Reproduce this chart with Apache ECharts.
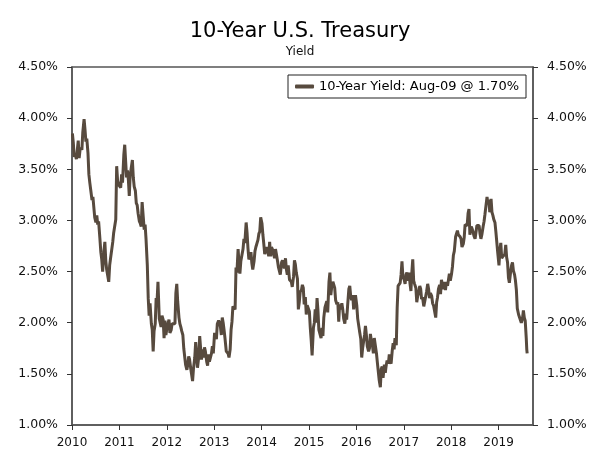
<!DOCTYPE html>
<html>
<head>
<meta charset="utf-8">
<script src="https://cdn.jsdelivr.net/npm/echarts@6/dist/echarts.min.js"></script>
<style>
  html, body { margin: 0; padding: 0; background: #fff; }
  #chart { width: 600px; height: 458px; }
</style>
</head>
<body>
<div id="chart"></div>
<script>
// weekly 10-year yields, 4 readings a month
var y2010 = [3.85,3.76,3.62,3.64, 3.60,3.69,3.78,3.61, 3.69,3.71,3.69,3.86, 3.99,3.89,3.77,3.80,
             3.66,3.45,3.37,3.30, 3.20,3.23,3.22,3.03, 2.98,3.05,2.96,2.99, 2.82,2.69,2.62,2.50,
             2.70,2.79,2.61,2.52, 2.52,2.40,2.56,2.63, 2.63,2.79,2.88,2.87, 3.01,3.53,3.39,3.35];
var y2011 = [3.36,3.32,3.45,3.37, 3.64,3.74,3.58,3.42, 3.49,3.40,3.24,3.44, 3.45,3.59,3.42,3.33,
             3.29,3.17,3.15,3.07, 2.99,2.97,2.94,3.18, 3.03,2.91,2.96,2.82, 2.56,2.24,2.07,2.19,
             1.99,1.93,1.72,1.92, 1.99,2.24,2.21,2.40, 2.04,2.04,1.96,2.07, 2.03,1.85,2.02,1.88];
var y2012 = [1.96,1.96,2.03,1.90, 1.93,1.99,2.00,1.98, 1.99,2.29,2.38,2.21, 2.05,1.99,1.96,1.92,
             1.88,1.75,1.74,1.59, 1.54,1.59,1.67,1.64, 1.55,1.49,1.43,1.55, 1.66,1.81,1.69,1.56,
             1.67,1.87,1.75,1.64, 1.74,1.66,1.76,1.72, 1.62,1.58,1.69,1.62, 1.63,1.70,1.77,1.70];
var y2013 = [1.90,1.87,1.84,1.99, 2.02,2.00,1.96,1.88, 2.05,2.00,1.93,1.85, 1.72,1.72,1.70,1.66,
             1.74,1.93,2.01,2.16, 2.17,2.13,2.54,2.49, 2.72,2.58,2.48,2.60, 2.60,2.72,2.82,2.78,
             2.98,2.88,2.73,2.62, 2.64,2.69,2.58,2.52, 2.60,2.70,2.74,2.74, 2.81,2.87,2.89,3.03];
var y2014 = [2.97,2.86,2.77,2.67, 2.67,2.74,2.73,2.65, 2.79,2.65,2.74,2.72, 2.72,2.63,2.72,2.67,
             2.60,2.54,2.53,2.47, 2.59,2.61,2.60,2.53, 2.63,2.52,2.47,2.56, 2.42,2.42,2.40,2.35,
             2.45,2.61,2.57,2.49, 2.43,2.13,2.20,2.30, 2.32,2.37,2.34,2.18, 2.25,2.08,2.17,2.17];
var y2015 = [2.11,1.95,1.83,1.68, 1.95,2.00,2.13,2.00, 2.24,2.12,1.93,1.94, 1.85,1.95,1.87,2.05,
             2.15,2.14,2.21,2.10, 2.40,2.49,2.27,2.35, 2.40,2.40,2.34,2.22, 2.18,2.20,2.01,2.18,
             2.13,2.19,2.13,2.04, 1.99,2.09,2.03,2.16, 2.33,2.36,2.26,2.22, 2.27,2.13,2.20,2.27];
var y2016 = [2.17,2.04,2.05,1.92, 1.84,1.66,1.75,1.76, 1.88,1.97,1.88,1.77, 1.72,1.75,1.89,1.83,
             1.78,1.70,1.85,1.85, 1.70,1.61,1.62,1.44, 1.37,1.55,1.57,1.46, 1.59,1.51,1.58,1.63,
             1.60,1.69,1.62,1.60, 1.73,1.80,1.74,1.85, 1.78,2.15,2.36,2.37, 2.39,2.47,2.60,2.45];
var y2017 = [2.42,2.38,2.47,2.49, 2.41,2.49,2.38,2.31, 2.49,2.62,2.41,2.38, 2.34,2.20,2.26,2.29,
             2.36,2.33,2.23,2.25, 2.16,2.15,2.15,2.30, 2.38,2.33,2.24,2.29, 2.26,2.19,2.17,2.16,
             2.05,2.20,2.25,2.33, 2.37,2.28,2.42,2.37, 2.33,2.40,2.32,2.40, 2.36,2.35,2.48,2.41];
var y2018 = [2.48,2.55,2.66,2.70, 2.84,2.85,2.90,2.86, 2.86,2.84,2.82,2.74, 2.77,2.83,2.96,2.96,
             2.95,3.07,3.11,2.86, 2.94,2.92,2.89,2.85, 2.82,2.83,2.95,2.96, 2.95,2.87,2.82,2.86,
             2.94,2.99,3.06,3.06, 3.23,3.16,3.20,3.08, 3.21,3.08,3.05,3.01, 2.98,2.89,2.79,2.69];
var y2019 = [2.56,2.71,2.78,2.63, 2.65,2.66,2.67,2.76, 2.64,2.59,2.44,2.39, 2.50,2.56,2.59,2.51,
             2.47,2.41,2.32,2.14, 2.08,2.09,2.07,2.00, 2.04,2.12,2.05,2.02, 1.85,1.74,1.70];

var years = [2010, 2011, 2012, 2013, 2014, 2015, 2016, 2017, 2018, 2019];
var yearValues = [y2010, y2011, y2012, y2013, y2014, y2015, y2016, y2017, y2018, y2019];
var weekDays = [4, 11, 18, 25];
var lastDays = [2, 6, 9];          // Aug 2019 readings
var yTicks = [1.0, 1.5, 2.0, 2.5, 3.0, 3.5, 4.0, 4.5];
var legendName = '10-Year Yield: Aug-09 @ 1.70%';

function decYear(y, m, d) {
  var start = Date.UTC(y, 0, 1), end = Date.UTC(y + 1, 0, 1);
  return y + (Date.UTC(y, m, d) - start) / (end - start);
}

var data = [];
years.forEach(function (yr, k) {
  var vals = yearValues[k];
  for (var i = 0; i < vals.length; i++) {
    var m = Math.floor(i / 4), w = i % 4;
    var day = (k === years.length - 1 && m === 7) ? lastDays[w] : weekDays[w];
    data.push([decYear(yr, m, day), vals[i]]);
  }
});

var font = 'DejaVu Sans';
var axisCol = '#555';

function pct(v) { return v.toFixed(2) + '%'; }

var yAxisBase = {
  type: 'value',
  min: yTicks[0],
  max: yTicks[yTicks.length - 1],
  interval: 0.5,
  splitLine: { show: false },
  axisLine: { show: true, lineStyle: { color: axisCol, width: 1.5 } },
  axisTick: { show: true, length: 5, lineStyle: { color: '#333', width: 1 } },
  axisLabel: { formatter: pct, margin: 14, color: '#111', fontFamily: font, fontSize: 12.5 }
};

var chart = echarts.init(document.getElementById('chart'));
chart.setOption({
  animation: false,
  backgroundColor: '#fff',
  title: {
    text: '10-Year U.S. Treasury',
    subtext: 'Yield',
    left: 'center',
    top: 21,
    padding: 0,
    itemGap: 4,
    textStyle: { fontFamily: font, fontSize: 21, fontWeight: 'normal', color: '#000' },
    subtextStyle: { fontFamily: font, fontSize: 12, color: '#111' }
  },
  legend: {
    data: [legendName],
    right: 74,
    top: 75,
    padding: [5, 7, 5, 7],
    borderColor: '#222',
    borderWidth: 1,
    icon: 'roundRect',
    itemWidth: 19,
    itemHeight: 4,
    itemGap: 4,
    textStyle: { fontFamily: font, fontSize: 13, color: '#000' }
  },
  grid: {
    left: 72, right: 67, top: 67, bottom: 33,
    show: true, borderColor: axisCol, borderWidth: 1.5
  },
  xAxis: {
    type: 'value',
    min: 2010,
    max: 2019.726,
    interval: 1,
    splitLine: { show: false },
    axisLine: { lineStyle: { color: axisCol, width: 1.5 } },
    axisTick: { length: 5, lineStyle: { color: '#333', width: 1 } },
    axisLabel: {
      margin: 12, color: '#111', fontFamily: font, fontSize: 12,
      showMaxLabel: false,
      formatter: function (v) { return Math.abs(v - Math.round(v)) < 1e-6 ? String(Math.round(v)) : ''; }
    }
  },
  yAxis: [
    Object.assign({}, yAxisBase, { position: 'left' }),
    Object.assign({}, yAxisBase, { position: 'right' })
  ],
  series: [{
    name: legendName,
    type: 'line',
    yAxisIndex: 0,
    data: data,
    showSymbol: false,
    symbol: 'none',
    lineStyle: { color: '#574a3e', width: 3 },
    itemStyle: { color: '#574a3e' }
  }]
});
</script>
</body>
</html>
